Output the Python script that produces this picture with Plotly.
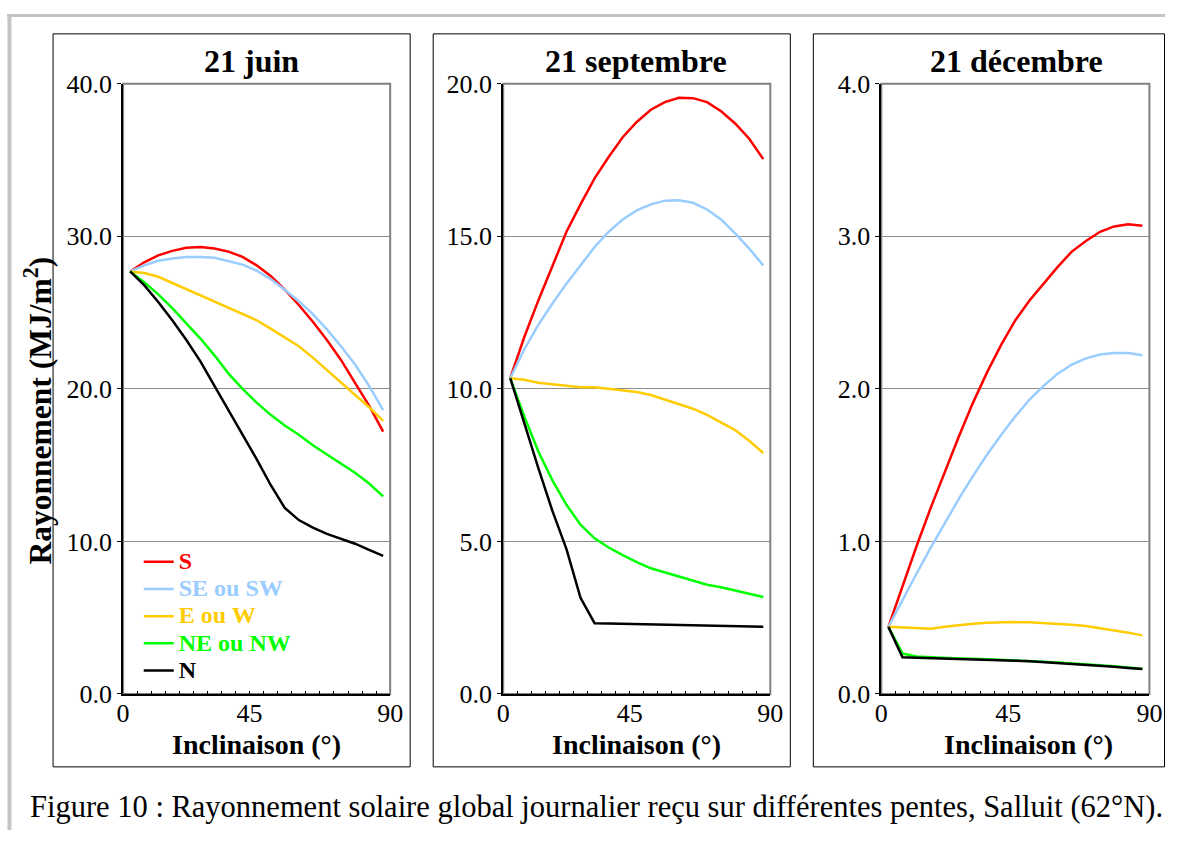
import plotly.graph_objects as go

W, H = 1178, 845

# ---------------- data ----------------
inclinaison = [0, 5, 10, 15, 20, 25, 30, 35, 40, 45, 50, 55, 60, 65, 70, 75, 80, 85, 90]
series_names = ["S", "SE ou SW", "E ou W", "NE ou NW", "N"]
series_colors = ["#ff0000", "#99ccff", "#ffcc00", "#00ff00", "#000000"]
panel_titles = ["21 juin", "21 septembre", "21 décembre"]
x_tick_labels = ["0", "45", "90"]

# 21 juin (MJ/m2)
juin_S = [27.7, 28.3, 28.75, 29.05, 29.25, 29.3, 29.2, 29.0, 28.65, 28.1, 27.4, 26.5, 25.5, 24.4, 23.2, 21.9, 20.4, 18.9, 17.2]
juin_SE = [27.7, 28.1, 28.4, 28.55, 28.65, 28.65, 28.6, 28.4, 28.15, 27.75, 27.2, 26.5, 25.75, 24.9, 23.9, 22.8, 21.6, 20.2, 18.6]
juin_E = [27.7, 27.6, 27.35, 26.95, 26.5, 26.1, 25.7, 25.3, 24.9, 24.5, 23.95, 23.4, 22.8, 22.05, 21.25, 20.4, 19.6, 18.8, 17.9]
juin_NE = [27.7, 27.0, 26.2, 25.3, 24.3, 23.3, 22.2, 21.0, 20.0, 19.1, 18.3, 17.6, 17.0, 16.3, 15.7, 15.1, 14.5, 13.8, 12.95]
juin_N = [27.7, 26.8, 25.7, 24.5, 23.2, 21.8, 20.2, 18.6, 17.0, 15.4, 13.7, 12.2, 11.4, 10.9, 10.5, 10.2, 9.85, 9.45, 9.05]

# 21 septembre
sept_S = [10.35, 11.7, 12.9, 14.0, 15.15, 16.05, 16.9, 17.6, 18.25, 18.75, 19.15, 19.4, 19.54, 19.53, 19.4, 19.1, 18.7, 18.2, 17.53]
sept_SE = [10.35, 11.3, 12.1, 12.8, 13.45, 14.05, 14.65, 15.15, 15.55, 15.85, 16.05, 16.17, 16.18, 16.1, 15.88, 15.55, 15.1, 14.6, 14.05]
sept_E = [10.35, 10.3, 10.2, 10.15, 10.1, 10.05, 10.05, 10.0, 9.95, 9.9, 9.8, 9.65, 9.5, 9.35, 9.15, 8.9, 8.65, 8.3, 7.9]
sept_NE = [10.35, 9.1, 7.95, 7.0, 6.2, 5.55, 5.1, 4.8, 4.55, 4.32, 4.12, 3.98, 3.85, 3.7, 3.58, 3.5, 3.4, 3.3, 3.18]
sept_N = [10.35, 8.85, 7.4, 6.0, 4.75, 3.15, 2.32, 2.31, 2.3, 2.29, 2.27, 2.26, 2.25, 2.24, 2.23, 2.22, 2.22, 2.21, 2.2]

# 21 decembre
dec_S = [0.44, 0.71, 0.97, 1.22, 1.46, 1.69, 1.91, 2.11, 2.29, 2.45, 2.58, 2.69, 2.8, 2.9, 2.97, 3.03, 3.065, 3.08, 3.07]
dec_SE = [0.44, 0.62, 0.79, 0.96, 1.12, 1.28, 1.43, 1.57, 1.7, 1.82, 1.93, 2.02, 2.1, 2.16, 2.2, 2.225, 2.235, 2.235, 2.22]
dec_E = [0.44, 0.435, 0.43, 0.428, 0.44, 0.452, 0.46, 0.467, 0.47, 0.471, 0.47, 0.466, 0.46, 0.454, 0.445, 0.432, 0.418, 0.402, 0.384]
dec_NE = [0.44, 0.265, 0.245, 0.24, 0.238, 0.233, 0.231, 0.228, 0.225, 0.221, 0.217, 0.212, 0.207, 0.202, 0.196, 0.189, 0.182, 0.174, 0.166]
dec_N = [0.44, 0.24, 0.237, 0.235, 0.233, 0.23, 0.228, 0.225, 0.222, 0.218, 0.214, 0.209, 0.204, 0.199, 0.193, 0.186, 0.179, 0.171, 0.163]

panels = [
    [juin_S, juin_SE, juin_E, juin_NE, juin_N],
    [sept_S, sept_SE, sept_E, sept_NE, sept_N],
    [dec_S, dec_SE, dec_E, dec_NE, dec_N],
]
y_max = [40, 20, 4]
y_step = [10, 5, 1]

# ---------------- layout helpers ----------------
FONT = "Liberation Serif, Times New Roman, serif"
plot_x = [(122, 389), (502, 769), (880, 1148)]
plot_top, plot_bot = 83, 694
frames = [(52, 409), (432, 789), (812, 1169)]
frame_top, frame_bot = 33, 767

# page placement correction (rendered page appears slightly shrunk)
AX, BX = 0.9827, 5.95
AY, BY = 0.967, 13.1


def px(x):
    return min(((x - BX) / AX) / W, 1177.5 / W)


def py(y):
    return 1 - ((y - BY) / AY) / H


fig = go.Figure()

half = 2.5
bounds = [v - half for v in inclinaison] + [inclinaison[-1] + half]
label_bounds = [bounds[0], bounds[9], bounds[-1]]

for p, data in enumerate(panels):
    sfx = "" if p == 0 else str(p + 1)
    for k, vals in enumerate(data):
        nm = ("<b><span style='color:%s;font-size:24px'>%s</span></b>"
              % (series_colors[k], series_names[k]))
        fig.add_trace(go.Scatter(
            x=inclinaison, y=vals, mode="lines",
            line=dict(color=series_colors[k], width=2.5),
            name=nm, showlegend=(p == 0),
            xaxis="x" + sfx, yaxis="y" + sfx,
        ))
    x0, x1 = plot_x[p]
    fig.layout["xaxis" + sfx] = dict(
        domain=[px(x0), px(x1)], anchor="y" + sfx,
        range=[bounds[0], bounds[-1]],
        tickmode="array", tickvals=label_bounds, ticktext=x_tick_labels,
        tickangle=0,
        ticks="inside", ticklen=3, tickwidth=1, tickcolor="#000000",
        minor=dict(tickmode="array", tickvals=bounds, ticks="inside",
                   ticklen=3, tickwidth=1, tickcolor="#000000", showgrid=False),
        ticklabelstandoff=-5,
        showgrid=False, zeroline=False,
        showline=True, linecolor="#000000", linewidth=2,
        tickfont=dict(family=FONT, size=26, color="#000000"),
    )
    fig.layout["yaxis" + sfx] = dict(
        domain=[py(plot_bot), py(plot_top)], anchor="x" + sfx,
        range=[0, y_max[p]], dtick=y_step[p], tick0=0, tickformat=".1f",
        ticks="outside", ticklen=4, tickwidth=1, tickcolor="#000000",
        showgrid=True, gridcolor="#8c8c8c", gridwidth=1,
        zeroline=False,
        showline=True, linecolor="#000000", linewidth=2,
        tickfont=dict(family=FONT, size=26, color="#000000"),
    )
    # plot-area border (gray, Excel style)
    fig.add_shape(type="rect", xref="x%s domain" % sfx, yref="y%s domain" % sfx,
                  x0=0, x1=1, y0=0, y1=1, layer="below",
                  line=dict(color="#808080", width=2))
    # panel frame
    fx0, fx1 = frames[p]
    fig.add_shape(type="rect", xref="paper", yref="paper",
                  x0=px(fx0), x1=px(fx1), y0=py(frame_bot), y1=py(frame_top),
                  line=dict(color="#000000", width=1))

# outer light-gray border (top and left visible)
gray = "#c4c4c4"
fig.add_shape(type="line", xref="paper", yref="paper",
              x0=0, x1=1, y0=1 - 1.5 / H, y1=1 - 1.5 / H,
              line=dict(color=gray, width=3))
fig.add_shape(type="line", xref="paper", yref="paper",
              x0=2.5 / W, x1=2.5 / W, y0=0, y1=1,
              line=dict(color=gray, width=4))

# titles
title_x = [250, 635, 1015]
for p in range(3):
    fig.add_annotation(text="<b>%s</b>" % panel_titles[p], xref="paper", yref="paper",
                       x=px(title_x[p]), y=py(60), xanchor="center", yanchor="middle",
                       showarrow=False, font=dict(family=FONT, size=32, color="#000000"))

xt_x = [255, 635.5, 1027]
for p in range(3):
    fig.add_annotation(text="<b>Inclinaison (°)</b>", xref="paper", yref="paper",
                       x=px(xt_x[p]), y=py(745), xanchor="center", yanchor="middle",
                       showarrow=False, font=dict(family=FONT, size=28, color="#000000"))

fig.add_annotation(text="<b>Rayonnement (MJ/m<sup>2</sup>)</b>", xref="paper", yref="paper",
                   x=px(37), y=py(410), xanchor="center", yanchor="middle", textangle=-90,
                   showarrow=False, font=dict(family=FONT, size=31.5, color="#000000"))

fig.add_annotation(text="Figure 10 : Rayonnement solaire global journalier reçu sur différentes pentes, Salluit (62°N).",
                   xref="paper", yref="paper", x=px(595), y=py(807),
                   xanchor="center", yanchor="middle", showarrow=False,
                   font=dict(family=FONT, size=30.5, color="#000000"))

fig.update_layout(
    width=W, height=H,
    margin=dict(l=0, r=0, t=0, b=0),
    paper_bgcolor="#ffffff", plot_bgcolor="#ffffff",
    showlegend=True,
    legend=dict(x=134 / W, y=1 - 548 / H, xanchor="left", yanchor="top",
                bgcolor="rgba(0,0,0,0)", borderwidth=0,
                font=dict(family=FONT, size=18.6, color="#000000"),
                tracegroupgap=0),
)

fig.write_html("out.html")
